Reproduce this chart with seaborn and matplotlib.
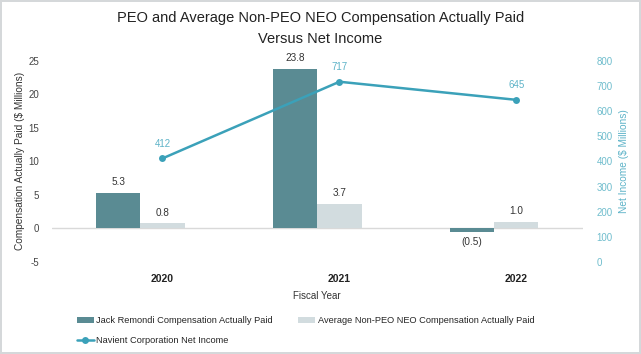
import seaborn as sns
import matplotlib.pyplot as plt
import pandas as pd
import numpy as np

# data
years = ['2020', '2021', '2022']
ceo_cap = [5.3, 23.8, -0.5]
neo_cap = [0.8, 3.7, 1.0]
net_income = [412, 717, 645]
ceo_name = 'Jack Remondi Compensation Actually Paid'
neo_name = 'Average Non-PEO NEO Compensation Actually Paid'
line_name = 'Navient Corporation Net Income'

dark = '#5a8b93'
light = '#d2dcdf'
line_c = '#3ba1b9'
label_c = '#5db3c8'

df = pd.DataFrame({
    'year': years * 2,
    'value': ceo_cap + neo_cap,
    'series': [ceo_name] * 3 + [neo_name] * 3,
})
df_line = pd.DataFrame({'x': np.arange(len(years)) + 0.125, 'income': net_income})

sns.set_style('white')
plt.rcParams['font.family'] = ['Liberation Sans', 'DejaVu Sans']
plt.rcParams['axes.unicode_minus'] = False

fig = plt.figure(figsize=(6.41, 3.54), dpi=100)
ax = fig.add_axes([0.081, 0.26, 0.828, 0.568])
fig.patch.set_edgecolor('#d5d8da')
fig.patch.set_linewidth(1.5)

sns.barplot(data=df, x='year', y='value', hue='series', palette=[dark, light],
            width=0.5, saturation=1, linewidth=0, ax=ax)
h_bar, l_bar = ax.get_legend_handles_labels()
ax.get_legend().remove()

for cont in ax.containers:
    ax.bar_label(cont, fmt=lambda v: f'({abs(v):.1f})' if v < 0 else f'{v:.1f}',
                 padding=4, fontsize=7.2, color='#333333')

ax.axhline(0, color='#d9d9d9', lw=1, zorder=0)
ax.set_ylim(-5, 25)
ax.set_yticks(range(-5, 26, 5))
ax.set_xlim(-0.5, 2.5)
ax.set_xticks(np.arange(len(years)) + 0.125)
ax.set_xticklabels(years, fontweight='bold', fontsize=7.5, color='#222222')
ax.tick_params(axis='x', length=0, pad=9)
ax.tick_params(axis='y', length=0, pad=9, labelsize=7, labelcolor='#444444')
ax.set_xlabel('Fiscal Year', fontsize=7, color='#333333', labelpad=5)
ax.set_ylabel('Compensation Actually Paid ($ Millions)', fontsize=7.3, color='#333333')
ax.yaxis.set_label_coords(-0.05, 0.5)
for s in ax.spines.values():
    s.set_visible(False)

ax2 = ax.twinx()
sns.lineplot(data=df_line, x='x', y='income', color=line_c, marker='o',
             markersize=5, markeredgewidth=0, linewidth=1.8, label=line_name, ax=ax2)
h_line, l_line = ax2.get_legend_handles_labels()
ax2.get_legend().remove()
for xv, yv in zip(df_line['x'], df_line['income']):
    ax2.annotate(f'{yv}', (xv, yv), xytext=(0, 7), textcoords='offset points',
                 ha='center', va='bottom', fontsize=7, color=label_c)
ax2.set_ylim(0, 800)
ax2.set_yticks(range(0, 801, 100))
ax2.set_xlim(-0.5, 2.5)
ax2.tick_params(axis='y', length=0, pad=10, labelsize=7, labelcolor='#6fbdcd')
ax2.set_ylabel('Net Income ($ Millions)', fontsize=7.3, color=label_c)
ax2.yaxis.set_label_coords(1.068, 0.5)
ax2.set_xlabel('')
for s in ax2.spines.values():
    s.set_visible(False)

fig.text(0.5, 0.948, 'PEO and Average Non-PEO NEO Compensation Actually Paid',
         ha='center', va='center', fontsize=10.5, color='#222222')
fig.text(0.5, 0.89, 'Versus Net Income', ha='center', va='center',
         fontsize=10.5, color='#222222')

# legend order so the line entry sits on the second row
fig.legend([h_bar[0], h_line[0], h_bar[1]], [l_bar[0], l_line[0], l_bar[1]],
           loc='upper left', bbox_to_anchor=(0.12, 0.107), ncol=2, frameon=False,
           fontsize=6.7, handlelength=1.8, columnspacing=2.7, labelspacing=1.15,
           handletextpad=0.3, borderaxespad=0, borderpad=0)

fig.savefig('out.png', dpi=100)
